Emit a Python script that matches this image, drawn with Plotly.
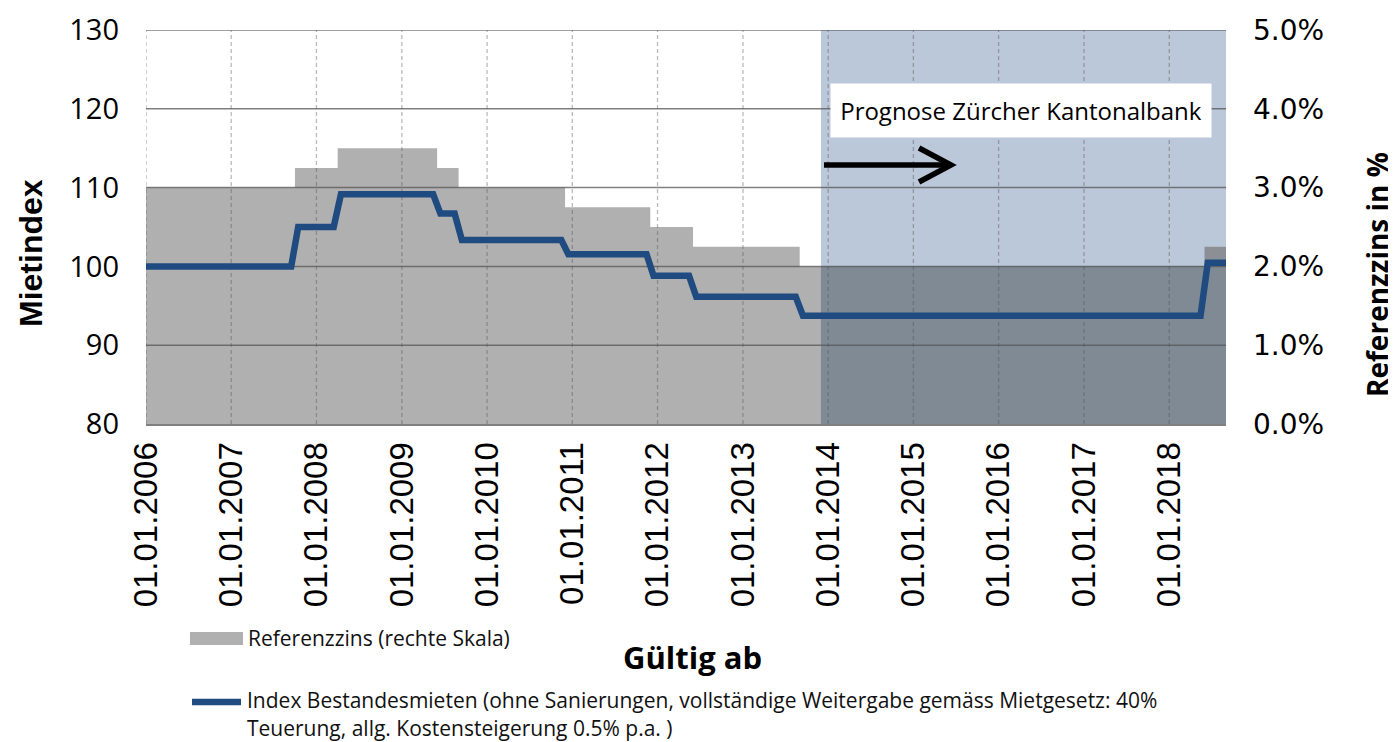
import plotly.graph_objects as go

# ---------------- data ----------------
ZINS_DATES = ["2006-01-01", "2007-10-01", "2008-04-01", "2009-06-01", "2009-09-01",
              "2010-12-01", "2011-12-01", "2012-06-01", "2013-09-01", "2018-06-01",
              "2018-09-01"]
ZINS_VALUES = [3.0, 3.25, 3.5, 3.25, 3.0, 2.75, 2.5, 2.25, 2.0, 2.25, 2.25]

INDEX_DATES = ["2006-01-01", "2007-09-15", "2007-10-15", "2008-03-15", "2008-04-15",
               "2009-05-15", "2009-06-15", "2009-08-15", "2009-09-15", "2010-11-15",
               "2010-12-15", "2011-11-15", "2011-12-15", "2012-05-15", "2012-06-15",
               "2013-08-15", "2013-09-15", "2018-05-15", "2018-06-15", "2018-09-01"]
INDEX_VALUES = [100.0, 100.0, 105.0, 105.0, 109.15, 109.15, 106.7, 106.7, 103.35, 103.35,
                101.55, 101.55, 98.8, 98.8, 96.15, 96.15, 93.75, 93.75, 100.45, 100.45]

FORECAST_START = "2013-12-01"
FORECAST_BASE = 2.0
X_START, X_END = "2006-01-01", "2018-09-01"

TICK_DATES = [f"{y}-01-01" for y in range(2006, 2019)]
TICK_LABELS = [f"01.01.{y}" for y in range(2006, 2019)]
LEFT_TICKS = [80, 90, 100, 110, 120, 130]
RIGHT_TICKS = [0, 1, 2, 3, 4, 5]
RIGHT_TICK_LABELS = ["0.0%", "1.0%", "2.0%", "3.0%", "4.0%", "5.0%"]

TITLE_LEFT = "Mietindex"
TITLE_RIGHT = "Referenzzins in %"
TITLE_X = "Gültig ab"
LEGEND_ZINS = "Referenzzins (rechte Skala)"
LEGEND_INDEX_1 = "Index Bestandesmieten (ohne Sanierungen, vollständige Weitergabe gemäss Mietgesetz: 40%"
LEGEND_INDEX_2 = "Teuerung, allg. Kostensteigerung 0.5% p.a. )"
PROGNOSE = "Prognose Zürcher Kantonalbank"

# ---------------- styling ----------------
FONT = "Open Sans"
GRAY = "#b0b0b0"
DARK = "#7f8a95"
BUMP = "#8c9096"
BLUE_BG = "#bac8da"
LINE = "#1f4b80"

OFF = 8  # page body margin
W, H = 1396 - OFF, 742 - OFF
PL, PT, PW, PH = 146, 30, 1080, 394  # plot area in reference pixel coords


def px(x):
    return (x - PL) / PW


def py(y):
    return 1 - (y - PT) / PH


def value_at(date):
    v = ZINS_VALUES[0]
    for d, val in zip(ZINS_DATES, ZINS_VALUES):
        if d <= date:
            v = val
    return v


hist_x = [d for d in ZINS_DATES if d < FORECAST_START] + [FORECAST_START]
hist_y = [v for d, v in zip(ZINS_DATES, ZINS_VALUES) if d < FORECAST_START] + [value_at(FORECAST_START)]
fc_x = [FORECAST_START] + [d for d in ZINS_DATES if d >= FORECAST_START]
fc_y = [value_at(FORECAST_START)] + [v for d, v in zip(ZINS_DATES, ZINS_VALUES) if d >= FORECAST_START]
fc_clip = [min(v, FORECAST_BASE) for v in fc_y]

fig = go.Figure()

# Referenzzins (main y axis = right side)
fig.add_trace(go.Scatter(x=hist_x, y=hist_y, mode="lines", line=dict(width=0, shape="hv"),
                         fill="tozeroy", fillcolor=GRAY, name=LEGEND_ZINS,
                         showlegend=False, hoverinfo="skip"))
fig.add_trace(go.Scatter(x=fc_x, y=fc_y, mode="lines", line=dict(width=0, shape="hv"),
                         fill="tozeroy", fillcolor=BUMP, showlegend=False, hoverinfo="skip"))
fig.add_trace(go.Scatter(x=fc_x, y=fc_clip, mode="lines", line=dict(width=0, shape="hv"),
                         fill="tozeroy", fillcolor=DARK, showlegend=False, hoverinfo="skip"))

# grid lines drawn above the area (on overlay axis)
hx, hy = [], []
for v in LEFT_TICKS[1:]:
    hx += [X_START, X_END, None]
    hy += [v, v, None]
fig.add_trace(go.Scatter(x=hx, y=hy, yaxis="y2", mode="lines",
                         line=dict(color="rgba(85,85,85,0.75)", width=1.5),
                         showlegend=False, hoverinfo="skip"))
vx, vy = [], []
for d in TICK_DATES:
    vx += [d, d, None]
    vy += [LEFT_TICKS[0], LEFT_TICKS[-1], None]
fig.add_trace(go.Scatter(x=vx, y=vy, yaxis="y2", mode="lines",
                         line=dict(color="rgba(80,80,80,0.4)", width=1.3, dash="4px,3px"),
                         showlegend=False, hoverinfo="skip"))

# Index line
fig.add_trace(go.Scatter(x=INDEX_DATES, y=INDEX_VALUES, yaxis="y2", mode="lines",
                         line=dict(color=LINE, width=6.5), name="Index Bestandesmieten",
                         showlegend=False, hoverinfo="skip"))

shapes = [
    dict(type="rect", xref="x", yref="paper", x0=FORECAST_START, x1=X_END, y0=0, y1=1,
         fillcolor=BLUE_BG, line=dict(width=0), layer="below"),
    # arrow
    dict(type="line", xref="paper", yref="paper", x0=px(824), x1=px(949), y0=py(165), y1=py(165),
         line=dict(color="black", width=5.5)),
    dict(type="path", xref="paper", yref="paper",
         path=f"M {px(919)},{py(148)} L {px(951)},{py(165)} L {px(919)},{py(182)}",
         line=dict(color="black", width=5.5)),
    # legend swatches
    dict(type="rect", xref="paper", yref="paper", x0=px(190), x1=px(243), y0=py(645), y1=py(632),
         fillcolor=GRAY, line=dict(width=0)),
    dict(type="line", xref="paper", yref="paper", x0=px(192), x1=px(241), y0=py(702), y1=py(702),
         line=dict(color=LINE, width=6.5)),
]

LEG_FONT = dict(family=FONT, size=21, color="#111")
annotations = [
    dict(xref="paper", yref="paper", x=px(1020.7), y=py(110.7), text=PROGNOSE, showarrow=False,
         font=dict(family=FONT, size=24, color="black"), bgcolor="white",
         width=372, height=45, borderpad=4, xanchor="center", yanchor="middle"),
    dict(xref="paper", yref="paper", x=px(246), y=py(638), text=LEGEND_ZINS, showarrow=False,
         font=LEG_FONT, xanchor="left", yanchor="middle"),
    dict(xref="paper", yref="paper", x=px(246), y=py(700), text=LEGEND_INDEX_1, showarrow=False,
         font=LEG_FONT, xanchor="left", yanchor="middle", align="left", borderpad=0),
    dict(xref="paper", yref="paper", x=px(246), y=py(727.5), text=LEGEND_INDEX_2, showarrow=False,
         font=LEG_FONT, xanchor="left", yanchor="middle", align="left", borderpad=0),
    # axis titles
    dict(xref="paper", yref="paper", x=px(31), y=py(253), text=f"<b>{TITLE_LEFT}</b>",
         showarrow=False, textangle=-90, xanchor="center", yanchor="middle",
         font=dict(family="Liberation Sans", size=32, color="black")),
    dict(xref="paper", yref="paper", x=px(1377), y=py(275), text=f"<b>{TITLE_RIGHT}</b>",
         showarrow=False, textangle=-90, xanchor="center", yanchor="middle",
         font=dict(family=FONT, size=28, color="black")),
    dict(xref="paper", yref="paper", x=px(692), y=py(657), text=f"<b>{TITLE_X}</b>",
         showarrow=False, xanchor="center", yanchor="middle",
         font=dict(family=FONT, size=31, color="black")),
]

fig.update_layout(
    width=W, height=H,
    margin=dict(l=PL - OFF, r=W - (PL - OFF) - PW, t=PT - OFF, b=H - (PT - OFF) - PH, autoexpand=False),
    paper_bgcolor="white", plot_bgcolor="white",
    font=dict(family=FONT, color="black"),
    showlegend=False,
    shapes=shapes, annotations=annotations,
    xaxis=dict(type="date", range=[X_START, X_END], tickvals=TICK_DATES, ticktext=TICK_LABELS,
               tickangle=-90, tickfont=dict(family="Liberation Sans", size=33), showgrid=False,
               showline=True, linecolor="#7f7f7f", linewidth=2, ticks="",
               ticklabelstandoff=3, automargin=False, zeroline=False),
    yaxis=dict(side="right", range=[0, 5], tickvals=RIGHT_TICKS, ticktext=RIGHT_TICK_LABELS,
               tickfont=dict(family="DejaVu Sans", size=28), showgrid=False, zeroline=False, ticks="",
               ticklabelstandoff=26, automargin=False),
    yaxis2=dict(overlaying="y", side="left", range=[80, 130], tickvals=LEFT_TICKS,
                tickfont=dict(family=FONT, size=29), showgrid=False, zeroline=False, ticks="",
                ticklabelstandoff=26, automargin=False),
)

fig.write_html("out.html")
